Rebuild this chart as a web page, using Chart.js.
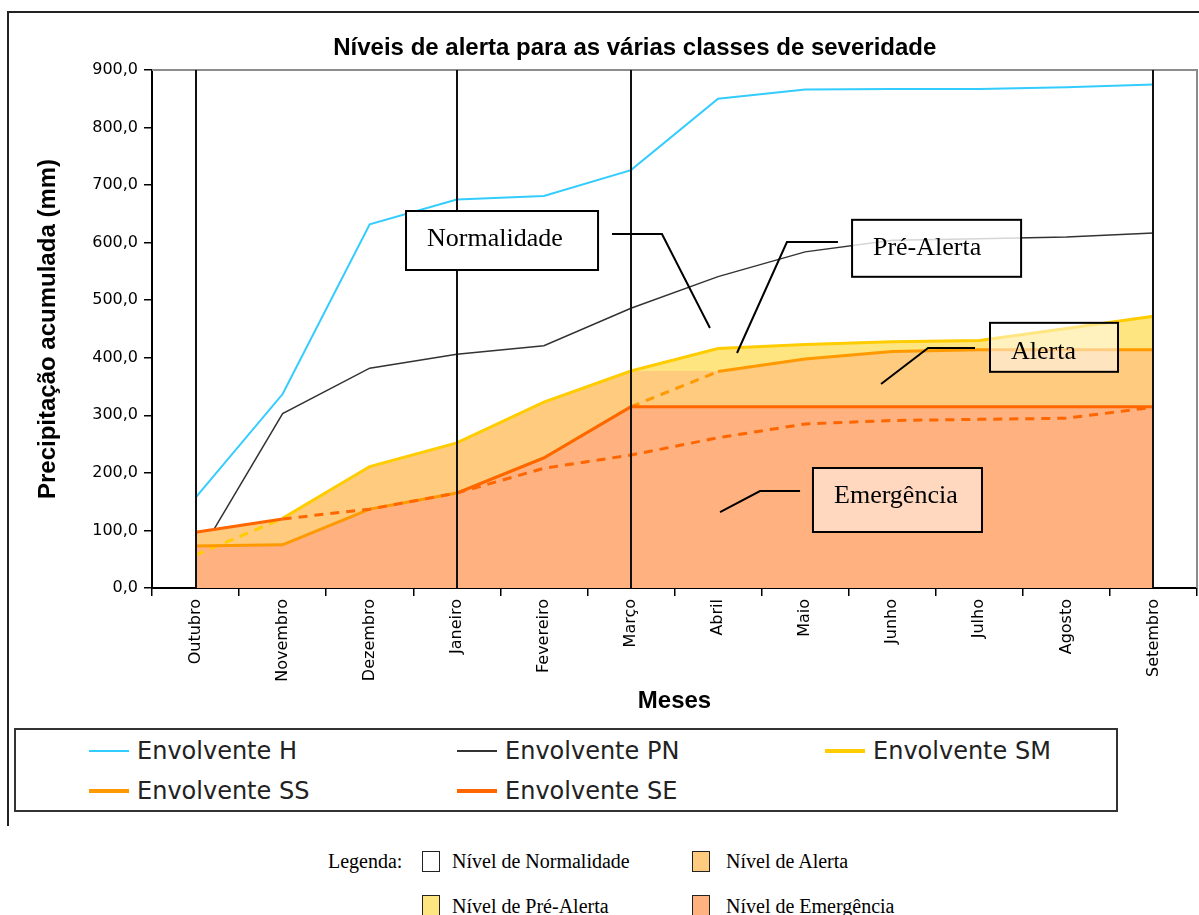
<!DOCTYPE html>
<html>
<head>
<meta charset="utf-8">
<script src="https://cdn.jsdelivr.net/npm/chart.js@4.4.1/dist/chart.umd.min.js"></script>
<style>
html,body{margin:0;padding:0;background:#fff;}
body{width:1199px;height:915px;overflow:hidden;position:relative;font-family:"Liberation Sans",Arial,sans-serif;}
#frame{position:absolute;left:7px;top:11px;width:1200px;height:815px;border-top:2px solid #222;border-left:2px solid #222;box-sizing:border-box;}
#c{position:absolute;left:0;top:0;}
#legend{position:absolute;left:14px;top:728px;width:1104px;height:84px;border:2px solid #333;box-sizing:border-box;background:#fff;}
.li{position:absolute;font-family:"DejaVu Sans",sans-serif;font-size:24px;color:#222;height:30px;line-height:30px;white-space:nowrap;}
.li .s{display:inline-block;width:40px;vertical-align:middle;margin-right:8px;position:relative;top:-1px;}
.l2{position:absolute;font-family:"Liberation Serif",serif;font-size:20px;color:#000;line-height:22px;white-space:nowrap;}
.bx{position:absolute;width:16px;height:19px;border:1.5px solid #222;}
</style>
</head>
<body>
<div id="frame"></div>
<canvas id="c" width="1199" height="725"></canvas>
<div id="legend"></div>
<div id="legend2"></div>
<script>
// ---- data ----
const months = ['Outubro','Novembro','Dezembro','Janeiro','Fevereiro','Março','Abril','Maio','Junho','Julho','Agosto','Setembro'];
const envH   = [157,337,632,675,681,726,850,866,867,867,870,875];
const envPN  = [48,303,382,406,421,486,541,584,604,607,610,617];
const envSM  = [57,121,211,252,323,377,416,423,428,430,451,472];
const envSS  = [73,75,137,165,226,315,376,398,411,414,414,414];
const envSE  = [97,120,137,165,226,315,315,315,315,315,315,315];
const envSEtrend = [null,120,137,165,208,231,261,285,291,293,295,314];
// tops of the coloured level bands
const topEmergencia = [73,75,137,165,226,315,315,315,315,315,315,315];
const topAlerta     = [97,120,211,252,323,377,377,398,411,414,414,414];
const topPreAlerta  = [97,120,211,252,323,377,416,423,428,430,451,472];
const yTicks = [0,100,200,300,400,500,600,700,800,900];
const markerMonths = ['Outubro','Janeiro','Março','Setembro'];
const levelNames = ['Nível de Normalidade','Nível de Alerta','Nível de Pré-Alerta','Nível de Emergência'];

// ---- styles ----
const C_EMERG = '#FFB17F', C_ALERTA = '#FFCB7F', C_PRE = '#FFE57F';
const C_H = '#33CCFF', C_PN = '#333333', C_SM = '#FFCC00', C_SS = '#FF9900', C_SE = '#FF6600';
const DASH = [9,7];

// annotation boxes (in data space: category index, value)
const notes = [
  {text:'Normalidade', box:[2.417,4.622,655,552.5], at:[2.658,594.2], path:[[4.782,615],[5.356,615],[5.907,451.7]], fill:'#ffffff'},
  {text:'Pré-Alerta', box:[7.539,9.48,639.7,540.7], at:[7.779,578.5], path:[[7.377,601.1],[6.791,601.1],[6.218,408.3]], fill:'rgba(255,255,255,0.8)'},
  {text:'Alerta', box:[9.123,10.593,460.7,375.6], at:[9.364,397.8], path:[[8.951,417],[8.412,417],[7.872,354.4]], fill:'rgba(255,255,255,0.5)'},
  {text:'Emergência', box:[7.09,9.031,208.5,97.3], at:[7.332,147.7], path:[[6.942,168.5],[6.482,168.5],[6.023,132]], fill:'rgba(255,255,255,0.5)'}
];

const band = (label, data, color, fill, order) => ({
  label, data, fill, backgroundColor: color, borderWidth: 0, pointRadius: 0, order, showInLegend: false
});

const datasets = [
  band('_emerg', topEmergencia, C_EMERG, 'origin', 90),
  band('_alerta', topAlerta, C_ALERTA, 0, 89),
  band('_pre', topPreAlerta, C_PRE, 1, 88),
  {label:'Envolvente H', data: envH, borderColor: C_H, borderWidth: 2, fill:false, order: 6, showInLegend:true, legendW:2},
  {label:'Envolvente PN', data: envPN, borderColor: C_PN, borderWidth: 1.5, fill:false, order: 100, showInLegend:true, legendW:2},
  {label:'Envolvente SM', data: envSM, borderColor: C_SM, borderWidth: 3, fill:false, order: 5, showInLegend:true, legendW:4,
    segment:{borderDash: ctx => ctx.p0DataIndex === 0 ? DASH : undefined}},
  {label:'Envolvente SS', data: envSS, borderColor: C_SS, borderWidth: 3, fill:false, order: 4, showInLegend:true, legendW:4,
    segment:{borderDash: ctx => ctx.p0DataIndex === 5 ? DASH : undefined}},
  {label:'Envolvente SE', data: envSE, borderColor: C_SE, borderWidth: 3, fill:false, order: 1, showInLegend:true, legendW:4,
    segment:{borderColor: ctx => (ctx.p0DataIndex === 1 || ctx.p0DataIndex === 2) ? 'rgba(0,0,0,0)' : undefined}},
  {label:'_seTrend', data: envSEtrend, borderColor: C_SE, borderWidth: 3, borderDash: DASH, fill:false, order: 2, showInLegend:false}
];

const overlay = {
  id: 'overlay',
  afterDatasetsDraw(chart) {
    const {ctx, chartArea: a, scales: {x, y}} = chart;
    ctx.save();
    // plot frame (top / right)
    ctx.strokeStyle = '#8c8c8c'; ctx.lineWidth = 2;
    ctx.beginPath(); ctx.moveTo(a.left, a.top); ctx.lineTo(a.right, a.top); ctx.lineTo(a.right, a.bottom); ctx.stroke();
    // vertical month markers
    ctx.strokeStyle = '#111'; ctx.lineWidth = 2;
    markerMonths.forEach(m => {
      const px = Math.round(x.getPixelForValue(months.indexOf(m)));
      ctx.beginPath(); ctx.moveTo(px, a.top); ctx.lineTo(px, a.bottom); ctx.stroke();
    });
    ctx.restore();
  },
  afterDraw(chart) {
    const {ctx, chartArea: a, scales: {x, y}} = chart;
    ctx.save();
    // callouts
    ctx.strokeStyle = '#000'; ctx.lineWidth = 2;
    notes.forEach(n => {
      ctx.beginPath();
      n.path.forEach((p, i) => {
        const px = x.getPixelForValue(p[0]), py = y.getPixelForValue(p[1]);
        i ? ctx.lineTo(px, py) : ctx.moveTo(px, py);
      });
      ctx.stroke();
    });
    // boxes
    notes.forEach(n => {
      const x0 = x.getPixelForValue(n.box[0]), x1 = x.getPixelForValue(n.box[1]);
      const y0 = y.getPixelForValue(n.box[2]), y1 = y.getPixelForValue(n.box[3]);
      ctx.fillStyle = n.fill; ctx.fillRect(x0, y0, x1 - x0, y1 - y0);
      ctx.strokeStyle = '#000'; ctx.lineWidth = 2; ctx.strokeRect(x0, y0, x1 - x0, y1 - y0);
      ctx.fillStyle = '#000'; ctx.font = '26px "Liberation Serif", serif';
      ctx.textAlign = 'left'; ctx.textBaseline = 'alphabetic';
      ctx.fillText(n.text, x.getPixelForValue(n.at[0]), y.getPixelForValue(n.at[1]));
    });
    // title
    ctx.fillStyle = '#000'; ctx.font = 'bold 24px "Liberation Sans", Arial, sans-serif';
    ctx.textAlign = 'center'; ctx.textBaseline = 'alphabetic';
    ctx.fillText('Níveis de alerta para as várias classes de severidade', a.left + a.width * 0.462, 55);
    ctx.restore();
  }
};

const chart = new Chart(document.getElementById('c'), {
  type: 'line',
  data: {labels: months, datasets},
  plugins: [overlay],
  options: {
    responsive: false, animation: false, devicePixelRatio: 1,
    layout: {padding: {left: 10, right: 2, top: 70, bottom: 0}},
    plugins: {legend: {display: false}, tooltip: {enabled: false}, title: {display: false}},
    elements: {point: {radius: 0, hoverRadius: 0}, line: {tension: 0}},
    scales: {
      x: {
        type: 'category', offset: true,
        grid: {offset: true, drawOnChartArea: false, drawTicks: true, tickLength: 8, color: '#000', lineWidth: 1.5},
        border: {color: '#000', width: 2},
        ticks: {autoSkip: false, maxRotation: 90, minRotation: 90, padding: 3, color: '#000', font: {family: 'DejaVu Sans', size: 16}},
        title: {display: true, text: 'Meses', color: '#000', font: {family: 'Liberation Sans', size: 24, weight: 'bold'}, padding: {top: 0, bottom: 9}},
        afterFit: s => { s.height = 137; }
      },
      y: {
        min: 0, max: 900,
        afterBuildTicks: s => { s.ticks = yTicks.map(v => ({value: v})); },
        grid: {drawOnChartArea: false, tickLength: 8, color: '#000', lineWidth: 1.5},
        border: {color: '#000', width: 2},
        ticks: {padding: 6, color: '#000', font: {family: 'DejaVu Sans', size: 16}, callback: v => Number(v).toFixed(1).replace('.', ',')},
        title: {display: true, text: 'Precipitação acumulada (mm)', color: '#000', font: {family: 'Liberation Sans', size: 24, weight: 'bold'}, padding: {top: 24, bottom: 0}},
        afterFit: s => { s.width = 142; }
      }
    }
  }
});

// series legend built from the chart's datasets
const legendEl = document.getElementById('legend');
chart.data.datasets.filter(d => d.showInLegend).forEach((d, i) => {
  const it = document.createElement('div');
  it.className = 'li';
  it.style.left = (73 + (i % 3) * 368) + 'px';
  it.style.top = (6 + Math.floor(i / 3) * 40) + 'px';
  const s = document.createElement('span');
  s.className = 's'; s.style.height = d.legendW + 'px'; s.style.background = d.borderColor;
  it.appendChild(s);
  it.appendChild(document.createTextNode(d.label));
  legendEl.appendChild(it);
});

// level legend
const lg2 = document.getElementById('legend2');
const levelColors = ['#ffffff', C_ALERTA, C_PRE, C_EMERG];
const lab = document.createElement('div');
lab.className = 'l2'; lab.style.left = '328px'; lab.style.top = '850px'; lab.textContent = 'Legenda:';
lg2.appendChild(lab);
levelNames.forEach((name, i) => {
  const col = i % 2, row = Math.floor(i / 2);
  const b = document.createElement('div');
  b.className = 'bx'; b.style.left = (422 + col * 270) + 'px'; b.style.top = (851 + row * 44) + 'px';
  b.style.background = levelColors[i];
  lg2.appendChild(b);
  const t = document.createElement('div');
  t.className = 'l2'; t.style.left = (452 + col * 274) + 'px'; t.style.top = (850 + row * 45) + 'px';
  t.textContent = name;
  lg2.appendChild(t);
});
</script>
</body>
</html>
